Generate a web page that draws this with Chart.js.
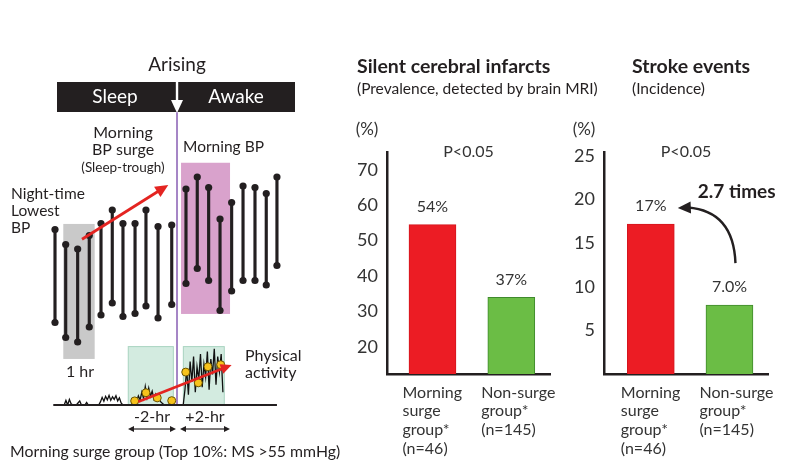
<!DOCTYPE html>
<html>
<head>
<meta charset="utf-8">
<script src="https://cdn.jsdelivr.net/npm/chart.js@4.4.1/dist/chart.umd.min.js"></script>
<style>
  body { margin: 0; background: #fff; width: 799px; height: 476px; overflow: hidden; position: relative;
         font-family: Lato, "Noto Sans", sans-serif; color: #231f20; }
  canvas { position: absolute; top: 0; }
  .h { position: absolute; white-space: nowrap; }
  .t { font-weight: bold; font-size: 19.5px; line-height: 20px; }
  .s { font-size: 15.5px; line-height: 18px; }
</style>
</head>
<body>
<canvas id="bp" width="350" height="476" style="left:0"></canvas>
<canvas id="sci" width="305" height="476" style="left:340px"></canvas>
<canvas id="stroke" width="314" height="476" style="left:565px"></canvas>
<div class="h t" style="left:357px;top:56px">Silent cerebral infarcts</div>
<div class="h s" style="left:357px;top:79px">(Prevalence, detected by brain MRI)</div>
<div class="h t" style="left:632px;top:56px">Stroke events</div>
<div class="h s" style="left:632px;top:79px">(Incidence)</div>
<script>
// ---- left panel: ambulatory BP readings (x = reading slot, y = mmHg)
const readingTimes = [0, 0.93, 1.97, 2.98, 4.0, 4.98, 5.91, 6.96, 7.91, 8.96, 10.15, 11.39, 12.37, 13.36, 14.35, 15.36, 16.35, 17.39, 18.37, 19.3];
const systolic  = [157, 147, 144, 153, 161, 170, 161, 161, 170, 159, 160, 184, 192, 185, 164, 175, 186, 185, 181, 192];
const diastolic = [95, 85, 82, 92, 100, 108, 99, 101, 106, 98, 107, 121, 131, 123, 103, 116, 123, 123, 120, 133];
const arisingTime = 10.61;

// physical activity trace (counts), sampled every 0.15 slot from 0.8
const activityStart = 0.8;
const activityStep = 0.15;
const activityCounts = [
  0, 1.8, 0, 2.2, 0.5, 0, 0, 0, 0.8, 1.6, 0, 0, 0, 1.0, 0, 0, 0, 0, 0, 0, 0,
  1.2, 3.0, 1.5, 3.4, 2.0, 3.8, 1.8, 3.2, 2.2, 3.6, 1.6, 2.8, 0.8,
  0, 0, 0, 0, 0, 0, 0, 0,
  1.5, 3.6, 2.0, 5.0, 2.6, 7.2, 3.0, 6.6, 3.4, 5.4, 2.4, 4.2, 1.8, 3.0, 1.2, 0.6,
  0, 0, 0, 0, 0, 0, 0, 0, 0, 0, 0, 0,
  6, 14, 4, 17, 9, 19, 5, 15, 10, 20, 7, 16, 11, 21, 6, 18, 12, 22, 8, 19, 13, 20, 5
];
const markerTimes  = [6.93, 7.91, 8.89, 10.15, 11.37, 12.46, 13.3, 14.41];
const markerCounts = [1.6, 4.8, 2.8, 1.7, 12.9, 8.7, 15.0, 15.8];

// ---- bar panels
const groupLabels = [['Morning', 'surge', 'group*', '(n=46)'], ['Non-surge', 'group*', '(n=145)']];
const infarctValues = [54.5, 34];
const infarctText = ['54%', '37%'];
const infarctTicks = [20, 30, 40, 50, 60, 70];
const strokeValues = [17.2, 7.9];
const strokeText = ['17%', '7.0%'];
const strokeTicks = [5, 10, 15, 20, 25];

const INK = '#231f20';
const FONT = 'Lato, "Noto Sans", sans-serif';
Chart.defaults.font.family = FONT;
Chart.defaults.color = '#333';

function arrow(ctx, x1, y1, x2, y2, color, lw, len, half) {
  const a = Math.atan2(y2 - y1, x2 - x1);
  ctx.strokeStyle = color; ctx.fillStyle = color; ctx.lineWidth = lw;
  ctx.beginPath(); ctx.moveTo(x1, y1);
  ctx.lineTo(x2 - Math.cos(a) * len * 0.8, y2 - Math.sin(a) * len * 0.8); ctx.stroke();
  ctx.beginPath(); ctx.moveTo(x2, y2);
  ctx.lineTo(x2 - Math.cos(a) * len - Math.sin(a) * half, y2 - Math.sin(a) * len + Math.cos(a) * half);
  ctx.lineTo(x2 - Math.cos(a) * len + Math.sin(a) * half, y2 - Math.sin(a) * len - Math.cos(a) * half);
  ctx.closePath(); ctx.fill();
}

function text(ctx, s, x, y, size, align, color, weight) {
  ctx.font = (weight || 'normal') + ' ' + size + 'px ' + FONT;
  ctx.fillStyle = color || INK;
  ctx.textAlign = align || 'left';
  ctx.textBaseline = 'middle';
  ctx.fillText(s, x, y);
}

const diagram = {
  id: 'diagram',
  beforeDatasetsDraw(chart) {
    const { ctx, scales: { x, y, y2 } } = chart;
    const box = (x1, x2, top, bottom, fill, stroke) => {
      ctx.fillStyle = fill;
      ctx.fillRect(x1, top, x2 - x1, bottom - top);
      if (stroke) { ctx.strokeStyle = stroke; ctx.lineWidth = 1; ctx.strokeRect(x1, top, x2 - x1, bottom - top); }
    };
    ctx.save();
    box(x.getPixelForValue(0.72), x.getPixelForValue(3.45), y.getPixelForValue(160.7), y.getPixelForValue(70.7), '#c9c9c9');
    box(x.getPixelForValue(10.96), x.getPixelForValue(15.22), y.getPixelForValue(201.5), y.getPixelForValue(100.7), '#d9a2cc');
    box(x.getPixelForValue(6.37), x.getPixelForValue(10.29), y2.getPixelForValue(22.9), y2.getPixelForValue(0), '#d3ebe0', '#a9d4c0');
    box(x.getPixelForValue(11.16), x.getPixelForValue(14.72), y2.getPixelForValue(22.9), y2.getPixelForValue(0), '#d3ebe0', '#a9d4c0');
    // arising line
    const ax = x.getPixelForValue(arisingTime);
    ctx.strokeStyle = '#a585c6'; ctx.lineWidth = 2;
    ctx.beginPath(); ctx.moveTo(ax, 112); ctx.lineTo(ax, y2.getPixelForValue(0)); ctx.stroke();
    ctx.restore();
  },
  afterDatasetsDraw(chart) {
    const { ctx, scales: { x, y, y2 } } = chart;
    ctx.save();
    // activity baseline
    ctx.strokeStyle = INK; ctx.lineWidth = 2.2;
    ctx.beginPath(); ctx.moveTo(x.getPixelForValue(-0.15), y2.getPixelForValue(0));
    ctx.lineTo(x.getPixelForValue(19.3), y2.getPixelForValue(0)); ctx.stroke();
    // surge arrows
    arrow(ctx, x.getPixelForValue(2.35), y.getPixelForValue(150.5), x.getPixelForValue(9.85), y.getPixelForValue(186.7), '#e42421', 2.8, 13, 6);
    arrow(ctx, x.getPixelForValue(7.24), y2.getPixelForValue(1.3), x.getPixelForValue(15.36), y2.getPixelForValue(15.7), '#e42421', 2.6, 11, 5);
    // banner
    const ax = x.getPixelForValue(arisingTime);
    ctx.fillStyle = INK; ctx.fillRect(57, 82, 238, 30);
    text(ctx, 'Sleep', 115, 97, 19, 'center', '#fff');
    text(ctx, 'Awake', 236, 97, 19, 'center', '#fff');
    ctx.fillStyle = '#fff';
    ctx.fillRect(ax - 1.2, 82, 2.4, 20);
    ctx.beginPath(); ctx.moveTo(ax - 6, 100); ctx.lineTo(ax + 6, 100); ctx.lineTo(ax, 113); ctx.closePath(); ctx.fill();
    text(ctx, 'Arising', ax, 65, 19, 'center');
    text(ctx, 'Morning', 123, 133, 16, 'center');
    text(ctx, 'BP surge', 123, 150, 16, 'center');
    text(ctx, '(Sleep-trough)', 123, 168, 13.5, 'center');
    text(ctx, 'Morning BP', 183, 147, 15.5, 'left');
    text(ctx, 'Night-time', 11, 194, 15.5, 'left');
    text(ctx, 'Lowest', 11, 211, 15.5, 'left');
    text(ctx, 'BP', 11, 228, 15.5, 'left');
    text(ctx, '1 hr', 80, 372, 16, 'center');
    text(ctx, 'Physical', 245, 356, 16, 'left');
    text(ctx, 'activity', 245, 373, 16, 'left');
    text(ctx, '-2-hr', 152, 417, 16, 'center');
    text(ctx, '+2-hr', 205, 417, 16, 'center');
    // +/- 2 hr spans
    const dbl = (a, b) => {
      arrow(ctx, (a + b) / 2, 429, a, 429, INK, 1.2, 6, 3);
      arrow(ctx, (a + b) / 2, 429, b, 429, INK, 1.2, 6, 3);
    };
    dbl(x.getPixelForValue(6.35), x.getPixelForValue(10.52));
    dbl(x.getPixelForValue(10.87), x.getPixelForValue(15.22));
    text(ctx, 'Morning surge group (Top 10%: MS >55 mmHg)', 10, 452, 15.8, 'left');
    ctx.restore();
  }
};

new Chart(document.getElementById('bp'), {
  type: 'bar',
  data: {
    datasets: [
      { type: 'scatter', yAxisID: 'y2', order: 0,
        data: markerTimes.map((t, i) => ({ x: t, y: markerCounts[i] })),
        pointRadius: 4, backgroundColor: '#f6c21c', borderColor: '#6b5400', borderWidth: 1 },
      { type: 'scatter', order: 1,
        data: readingTimes.map((t, i) => ({ x: t, y: systolic[i] })),
        pointRadius: 3.6, backgroundColor: INK, borderWidth: 0 },
      { type: 'scatter', order: 1,
        data: readingTimes.map((t, i) => ({ x: t, y: diastolic[i] })),
        pointRadius: 3.6, backgroundColor: INK, borderWidth: 0 },
      { type: 'bar', order: 2,
        data: readingTimes.map((t, i) => ({ x: t, y: [diastolic[i], systolic[i]] })),
        backgroundColor: INK, barThickness: 2.5 },
      { type: 'line', yAxisID: 'y2', order: 3,
        data: activityCounts.map((v, i) => ({ x: activityStart + i * activityStep, y: v })),
        borderColor: '#111', borderWidth: 1.3, pointRadius: 0, tension: 0 }
    ]
  },
  options: {
    responsive: false, animation: false,
    layout: { padding: { left: 32, right: 19, top: 150, bottom: 71 } },
    plugins: { legend: { display: false }, tooltip: { enabled: false } },
    scales: {
      x: { type: 'linear', min: -2, max: 24, offset: false, display: false },
      y: { min: 40, max: 210, display: false },
      y2: { min: 0, max: 100, display: false }
    }
  },
  plugins: [diagram]
});

// ---- bar panels
const barNotes = {
  id: 'barNotes',
  afterDatasetsDraw(chart, args, opts) {
    const { ctx, chartArea } = chart;
    const bars = chart.getDatasetMeta(0).data;
    ctx.save();
    text(ctx, '(%)', chartArea.left - 20, 130, 17, 'center', '#333');
    text(ctx, 'P<0.05', (chartArea.left + chartArea.right) / 2, 152, 16, 'center', '#333');
    bars.forEach((b, i) => text(ctx, opts.labels[i], b.x, b.y - 18, 16, 'center', '#333'));
    if (opts.times) {
      const [b0, b1] = bars;
      const sx = b1.x + 6, sy = b1.y - 42, tx = b0.x + 27, ty = b0.y - 16;
      const cx = b1.x + 4, cy = b0.y - 13;
      ctx.strokeStyle = INK; ctx.lineWidth = 2.4;
      ctx.beginPath(); ctx.moveTo(sx, sy); ctx.quadraticCurveTo(cx, cy, tx + 10, ty - 0.5); ctx.stroke();
      arrow(ctx, tx + 12, ty - 0.5, tx, ty, INK, 2.4, 13, 6);
      text(ctx, opts.times, b0.x + 47, b0.y - 32, 19, 'left', INK, 'bold');
    }
    ctx.restore();
  }
};

function barPanel(id, values, labels, ticks, yMin, yMax, xMin, xMax, axisWidth, padRight, times) {
  return new Chart(document.getElementById(id), {
    type: 'bar',
    data: {
      datasets: [{
        data: values.map((v, i) => ({ x: i, y: v })),
        backgroundColor: ['#ec1c24', '#6bbd45'],
        borderColor: ['#d4161e', '#3f8a2c'],
        borderWidth: 1, borderSkipped: 'bottom', barThickness: 47
      }]
    },
    options: {
      responsive: false, animation: false,
      layout: { padding: { left: 0, right: padRight, top: 152, bottom: 0 } },
      plugins: { legend: { display: false }, tooltip: { enabled: false }, barNotes: { labels, times } },
      scales: {
        x: {
          type: 'linear', min: xMin, max: xMax, offset: false,
          grid: { display: false, drawTicks: false },
          border: { display: true, color: INK, width: 2.5 },
          afterBuildTicks: s => { s.ticks = groupLabels.map((g, i) => ({ value: i })); },
          afterFit: s => { s.height = 102; },
          ticks: { callback: v => groupLabels[v], align: 'start', labelOffset: -30, padding: 9,
                   maxRotation: 0, autoSkip: false, color: '#333', font: { size: 16, lineHeight: 1.17 } }
        },
        y: {
          min: yMin, max: yMax,
          grid: { display: false, drawTicks: false },
          border: { display: true, color: INK, width: 2.5 },
          afterBuildTicks: s => { s.ticks = ticks.map(v => ({ value: v })); },
          afterFit: s => { s.width = axisWidth; },
          ticks: { padding: 9, color: '#333', font: { size: 18 } }
        }
      }
    },
    plugins: [barNotes]
  });
}

// extra right padding leaves room for the start-aligned category labels
barPanel('sci', infarctValues, infarctText, infarctTicks, 12.4, 75, -0.577, 1.491, 47, 95);
barPanel('stroke', strokeValues, strokeText, strokeTicks, 0, 25.45, -0.595, 1.49, 39, 111, '2.7 times');
</script>
</body>
</html>
